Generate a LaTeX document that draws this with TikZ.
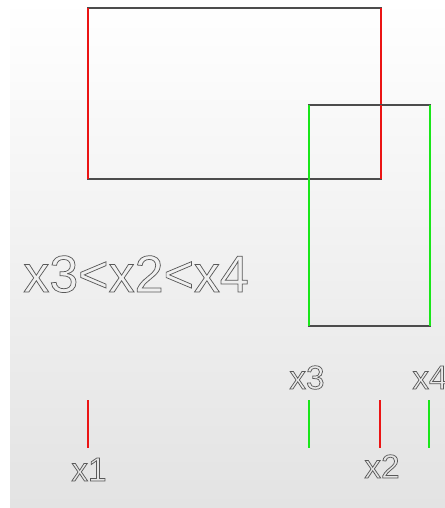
\documentclass[tikz,border=0pt]{standalone}
\usepackage{fontspec}
\setmainfont{Liberation Sans}
\definecolor{sidegreen}{RGB}{25,230,25}
\definecolor{sidered}{RGB}{235,20,20}
\newcommand{\hollowtext}[1]{\special{pdf:literal 1 Tr}#1\special{pdf:literal 0 Tr}}
\begin{document}
\begin{tikzpicture}[x=0.75pt,y=-0.75pt]
    \tikzstyle{edge}=[draw=black!70,line width=1.1pt]
    \tikzstyle{red side}=[draw=sidered,line width=1.4pt]
    \tikzstyle{green side}=[draw=sidegreen,line width=1.4pt]
    \tikzstyle{label}=[text=black!65,line width=0.55pt,inner sep=0pt,anchor=base,font=\fontsize{25}{25}\selectfont]
    \tikzstyle{big label}=[label,anchor=base west,font=\fontsize{39}{39}\selectfont]
    \useasboundingbox (0,0) rectangle (445,508);
    \shade[top color=white,bottom color=black!11] (10,0) rectangle (445,508);
    % first rectangle
    \coordinate (A_nw) at (88,8);
    \coordinate (A_se) at (381,179);
    \draw [edge] (A_nw) rectangle (A_se);
    \draw [red side] (A_nw) -- (A_nw |- A_se);
    \draw [red side] (A_se |- A_nw) -- (A_se);
    % second rectangle
    \coordinate (B_nw) at (309,105);
    \coordinate (B_se) at (430,326);
    \draw [edge] (B_nw) rectangle (B_se);
    \draw [green side] (B_nw) -- (B_nw |- B_se);
    \draw [green side] (B_se |- B_nw) -- (B_se);
    \draw [red side] (A_se |- B_nw) -- (A_se);
    % order
    \node[big label] (order) at (23,292) {\hollowtext{x3<x2<x4}};
    % ticks
    \coordinate (T_1) at (88,400);
    \coordinate (T_3) at (309,400);
    \coordinate (T_2) at (380,400);
    \coordinate (T_4) at (429,400);
    \draw [red side] (T_1) -- ++(0,48);
    \draw [green side] (T_3) -- ++(0,48);
    \draw [red side] (T_2) -- ++(0,48);
    \draw [green side] (T_4) -- ++(0,48);
    \node[label] (L_1) at (89,481) {\hollowtext{x1}};
    \node[label] (L_3) at (307,389) {\hollowtext{x3}};
    \node[label] (L_2) at (382,478) {\hollowtext{x2}};
    \node[label] (L_4) at (430,389) {\hollowtext{x4}};
\end{tikzpicture}
\end{document}
